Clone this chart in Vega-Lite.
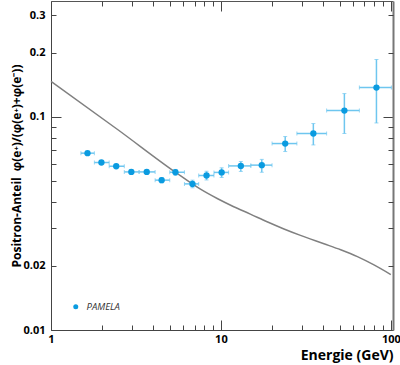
{
  "$schema": "https://vega.github.io/schema/vega-lite/v6.json",
  "width": 342,
  "height": 329,
  "autosize": "none",
  "padding": {"left": 51, "top": 1, "right": 7, "bottom": 35},
  "background": "white",
  "config": {
    "view": {"stroke": null},
    "font": "Open Sans",
    "axis": {
      "grid": false,
      "labelFont": "Open Sans",
      "labelFontWeight": "bold",
      "labelFontSize": 11,
      "labelColor": "#000",
      "labelFlush": false,
      "labelOverlap": false,
      "titleFont": "Open Sans",
      "titleFontWeight": "bold",
      "titleColor": "#000",
      "tickColor": "#444",
      "tickWidth": 1,
      "domainColor": "#444",
      "domainWidth": 1
    }
  },
  "datasets": {
    "pamela": [
      {"series": "PAMELA", "E": 1.64, "v": 0.0676, "xlo": 1.5, "xhi": 1.8, "ylo": 0.0663, "yhi": 0.0689},
      {"series": "PAMELA", "E": 1.98, "v": 0.0611, "xlo": 1.8, "xhi": 2.2, "ylo": 0.0599, "yhi": 0.0623},
      {"series": "PAMELA", "E": 2.42, "v": 0.0587, "xlo": 2.2, "xhi": 2.7, "ylo": 0.0576, "yhi": 0.0598},
      {"series": "PAMELA", "E": 2.97, "v": 0.0552, "xlo": 2.7, "xhi": 3.3, "ylo": 0.0540, "yhi": 0.0564},
      {"series": "PAMELA", "E": 3.66, "v": 0.0552, "xlo": 3.3, "xhi": 4.1, "ylo": 0.0540, "yhi": 0.0564},
      {"series": "PAMELA", "E": 4.48, "v": 0.0505, "xlo": 4.1, "xhi": 5.0, "ylo": 0.0491, "yhi": 0.0519},
      {"series": "PAMELA", "E": 5.40, "v": 0.0550, "xlo": 5.0, "xhi": 6.1, "ylo": 0.0533, "yhi": 0.0567},
      {"series": "PAMELA", "E": 6.80, "v": 0.0485, "xlo": 6.1, "xhi": 7.4, "ylo": 0.0465, "yhi": 0.0505},
      {"series": "PAMELA", "E": 8.23, "v": 0.0531, "xlo": 7.4, "xhi": 9.1, "ylo": 0.0506, "yhi": 0.0556},
      {"series": "PAMELA", "E": 10.1, "v": 0.0549, "xlo": 9.1, "xhi": 11.1, "ylo": 0.0520, "yhi": 0.0577},
      {"series": "PAMELA", "E": 13.1, "v": 0.0589, "xlo": 11.1, "xhi": 15.0, "ylo": 0.0555, "yhi": 0.0618},
      {"series": "PAMELA", "E": 17.4, "v": 0.0594, "xlo": 15.0, "xhi": 20.0, "ylo": 0.0550, "yhi": 0.0632},
      {"series": "PAMELA", "E": 23.9, "v": 0.0750, "xlo": 20.0, "xhi": 28.0, "ylo": 0.0688, "yhi": 0.0809},
      {"series": "PAMELA", "E": 35.0, "v": 0.0836, "xlo": 28.0, "xhi": 41.9, "ylo": 0.0739, "yhi": 0.0931},
      {"series": "PAMELA", "E": 53.3, "v": 0.1071, "xlo": 41.9, "xhi": 65.3, "ylo": 0.0836, "yhi": 0.1287},
      {"series": "PAMELA", "E": 82.3, "v": 0.1373, "xlo": 65.3, "xhi": 100.8, "ylo": 0.0937, "yhi": 0.186}
    ],
    "curve": [
      {"E": 1.0, "v": 0.147},
      {"E": 2.5, "v": 0.0866},
      {"E": 5.4, "v": 0.0550},
      {"E": 7.58, "v": 0.0458},
      {"E": 9.51, "v": 0.0414},
      {"E": 11.9, "v": 0.0379},
      {"E": 14.9, "v": 0.0350},
      {"E": 18.7, "v": 0.0322},
      {"E": 23.5, "v": 0.0298},
      {"E": 29.4, "v": 0.0278},
      {"E": 40.4, "v": 0.0254},
      {"E": 50.7, "v": 0.0238},
      {"E": 63.6, "v": 0.0221},
      {"E": 79.6, "v": 0.0202},
      {"E": 100, "v": 0.0182}
    ]
  },
  "resolve": {"axis": {"x": "independent", "y": "independent"}},
  "layer": [
    {
      "data": {"name": "curve"},
      "mark": {"type": "line", "color": "#808080", "strokeWidth": 1.5, "interpolate": "monotone"},
      "encoding": {
        "x": {
          "field": "E", "type": "quantitative",
          "scale": {"type": "log", "domain": [1, 103]},
          "axis": {
            "orient": "bottom", "values": [1, 10, 100], "format": "~g",
            "tickSize": -10, "labelPadding": 13,
            "title": "Energie (GeV)", "titleAnchor": "end", "titleFontSize": 14, "titlePadding": 4
          }
        },
        "y": {
          "field": "v", "type": "quantitative",
          "scale": {"type": "log", "domain": [0.01, 0.35]},
          "axis": {
            "orient": "left", "values": [0.01, 0.02, 0.1, 0.2, 0.3], "format": "~g",
            "ticks": false, "labelPadding": 6,
            "title": "Positron-Anteil\u2002φ(e⁺)/(φ(e⁺)+φ(e⁻))", "titleFontSize": 12, "titlePadding": -1
          }
        }
      }
    },
    {
      "data": {"name": "pamela"},
      "mark": {"type": "rule", "color": "#6ec6ef", "strokeWidth": 1.5},
      "encoding": {
        "x": {
          "field": "xlo", "type": "quantitative", "scale": {"type": "log", "domain": [1, 103]},
          "axis": {"orient": "bottom", "values": [2,3,4,5,6,7,8,9,20,30,40,50,60,70,80,90], "labels": false, "domain": false, "tickSize": -5, "title": null}
        },
        "x2": {"field": "xhi"},
        "y": {
          "field": "v", "type": "quantitative", "scale": {"type": "log", "domain": [0.01, 0.35]},
          "axis": {"orient": "left", "values": [0.01, 0.1], "labels": false, "domain": false, "tickSize": -10, "title": null}
        }
      }
    },
    {
      "data": {"name": "pamela"},
      "mark": {"type": "rule", "color": "#6ec6ef", "strokeWidth": 1.5},
      "encoding": {
        "x": {
          "field": "E", "type": "quantitative", "scale": {"type": "log", "domain": [1, 103]},
          "axis": {"orient": "top", "values": [1, 10, 100], "labels": false, "domain": true, "domainColor": "#555", "tickSize": -10, "title": null}
        },
        "y": {
          "field": "ylo", "type": "quantitative", "scale": {"type": "log", "domain": [0.01, 0.35]},
          "axis": {"orient": "left", "values": [0.02,0.03,0.04,0.05,0.06,0.07,0.08,0.09,0.2,0.3], "labels": false, "domain": false, "tickSize": -5, "title": null}
        },
        "y2": {"field": "yhi"}
      }
    },
    {
      "data": {"name": "pamela"},
      "transform": [{"fold": ["xlo", "xhi"], "as": ["k", "xc"]}],
      "mark": {"type": "tick", "orient": "vertical", "color": "#6ec6ef", "size": 4, "thickness": 1},
      "encoding": {
        "x": {
          "field": "xc", "type": "quantitative", "scale": {"type": "log", "domain": [1, 103]},
          "axis": {"orient": "top", "values": [2,3,4,5,6,7,8,9,20,30,40,50,60,70,80,90], "labels": false, "domain": false, "tickSize": -5, "title": null}
        },
        "y": {
          "field": "v", "type": "quantitative", "scale": {"type": "log", "domain": [0.01, 0.35]},
          "axis": {"orient": "right", "values": [0.01, 0.1], "labels": false, "domain": true, "domainColor": "#777", "domainWidth": 2, "tickSize": -10, "title": null}
        }
      }
    },
    {
      "data": {"name": "pamela"},
      "transform": [{"fold": ["ylo", "yhi"], "as": ["k", "yc"]}],
      "mark": {"type": "tick", "orient": "horizontal", "color": "#6ec6ef", "size": 4, "thickness": 1},
      "encoding": {
        "x": {"field": "E", "type": "quantitative", "scale": {"type": "log", "domain": [1, 103]}, "axis": null},
        "y": {
          "field": "yc", "type": "quantitative", "scale": {"type": "log", "domain": [0.01, 0.35]},
          "axis": {"orient": "right", "values": [0.02,0.03,0.04,0.05,0.06,0.07,0.08,0.09,0.2,0.3], "labels": false, "domain": false, "tickSize": -5, "title": null}
        }
      }
    },
    {
      "data": {"name": "pamela"},
      "mark": {"type": "circle", "opacity": 1, "size": 40},
      "encoding": {
        "x": {"field": "E", "type": "quantitative", "scale": {"type": "log", "domain": [1, 103]}, "axis": null},
        "y": {"field": "v", "type": "quantitative", "scale": {"type": "log", "domain": [0.01, 0.35]}, "axis": null},
        "color": {
          "field": "series", "type": "nominal",
          "scale": {"range": ["#0a9be0"]},
          "legend": {
            "orient": "none", "legendX": 20, "legendY": 301, "title": null, "padding": 0,
            "symbolSize": 25, "symbolType": "circle",
            "labelFont": "Open Sans", "labelFontStyle": "italic", "labelFontSize": 9.5, "labelColor": "#333", "labelOffset": 6
          }
        }
      }
    }
  ]
}
